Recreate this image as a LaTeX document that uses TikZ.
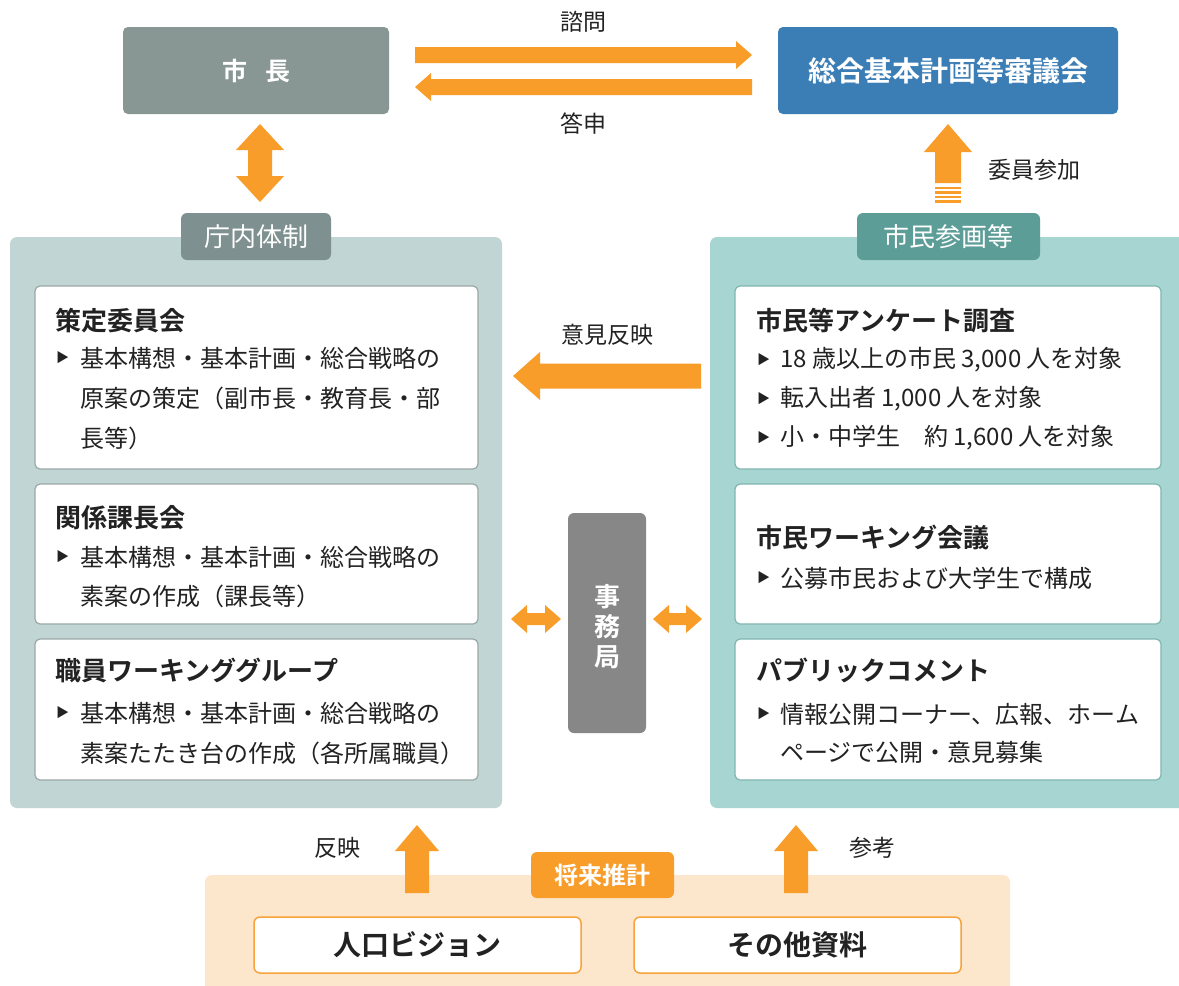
\documentclass[tikz,border=0pt]{standalone}
\usepackage{fontspec}
\setmainfont{Noto Sans CJK JP}[BoldFont={Noto Sans CJK JP Bold}]
\definecolor{arrowc}{HTML}{F89C2A}
\definecolor{mayorc}{HTML}{899794}
\definecolor{bluec}{HTML}{3B7EB6}
\definecolor{leftpanel}{HTML}{C0D5D4}
\definecolor{lefttab}{HTML}{7E908F}
\definecolor{rightpanel}{HTML}{A7D6D2}
\definecolor{righttab}{HTML}{5C9D97}
\definecolor{jimuc}{HTML}{878787}
\definecolor{peach}{HTML}{FDE7CC}
\definecolor{boxline}{HTML}{9AA8A7}
\definecolor{rboxline}{HTML}{7FB5B0}
\definecolor{obox}{HTML}{F7A23A}
\definecolor{txt}{HTML}{222222}
\newcommand{\fsz}[1]{\fontsize{#1}{#1}\selectfont}
% horizontal block arrow: start x, tip x, y, shaft hw, head hw, head len (signed)
\newcommand{\blockH}[6]{\fill[arrowc] ({#1},{#3-(#4)}) -- ({#2-(#6)},{#3-(#4)}) -- ({#2-(#6)},{#3-(#5)}) -- ({#2},{#3}) -- ({#2-(#6)},{#3+(#5)}) -- ({#2-(#6)},{#3+(#4)}) -- ({#1},{#3+(#4)}) -- cycle;}
% vertical block arrow: x, start y, tip y, shaft hw, head hw, head len (signed)
\newcommand{\blockV}[6]{\fill[arrowc] ({#1-(#4)},{#2}) -- ({#1-(#4)},{#3-(#6)}) -- ({#1-(#5)},{#3-(#6)}) -- ({#1},{#3}) -- ({#1+(#5)},{#3-(#6)}) -- ({#1+(#4)},{#3-(#6)}) -- ({#1+(#4)},{#2}) -- cycle;}
% horizontal double arrow: x1, x2, y, shaft hw, head hw, head len
\newcommand{\dblH}[6]{\fill[arrowc] ({#1},{#3}) -- ({#1+(#6)},{#3-(#5)}) -- ({#1+(#6)},{#3-(#4)}) -- ({#2-(#6)},{#3-(#4)}) -- ({#2-(#6)},{#3-(#5)}) -- ({#2},{#3}) -- ({#2-(#6)},{#3+(#5)}) -- ({#2-(#6)},{#3+(#4)}) -- ({#1+(#6)},{#3+(#4)}) -- ({#1+(#6)},{#3+(#5)}) -- cycle;}
% vertical double arrow: x, y1, y2, shaft hw, head hw, head len
\newcommand{\dblV}[6]{\fill[arrowc] ({#1},{#2}) -- ({#1+(#5)},{#2+(#6)}) -- ({#1+(#4)},{#2+(#6)}) -- ({#1+(#4)},{#3-(#6)}) -- ({#1+(#5)},{#3-(#6)}) -- ({#1},{#3}) -- ({#1-(#5)},{#3-(#6)}) -- ({#1-(#4)},{#3-(#6)}) -- ({#1-(#4)},{#2+(#6)}) -- ({#1-(#5)},{#2+(#6)}) -- cycle;}
\tikzset{
  topbox/.style={inner sep=0pt, text=white, font=\bfseries\fsz{28}},
  panel/.style={rounded corners=7pt},
  tabbox/.style={inner sep=0pt, text=white, font=\fsz{26}},
  wbox/.style={fill=white, draw=boxline, line width=1.2pt, rounded corners=5pt},
  rwbox/.style={fill=white, draw=rboxline, line width=1.2pt, rounded corners=5pt},
  head/.style={anchor=west, inner sep=0pt, text=txt, font=\bfseries\fsz{26}},
  body/.style={anchor=west, inner sep=0pt, text=txt, font=\fsz{24}},
  bul/.style={anchor=west, inner sep=0pt, text=txt, font=\fsz{13}},
  lbl/.style={inner sep=0pt, text=txt, font=\fsz{23}},
  obx/.style={fill=white, draw=obox, line width=1.5pt, rounded corners=6pt},
}
\begin{document}
\begin{tikzpicture}[x=1pt, y=-1pt]
\useasboundingbox[fill=white] (0,0) rectangle (1179,986);
% top boxes
\fill[mayorc, rounded corners=5pt] (123,27) rectangle (389,114);
\node[topbox, font=\bfseries\fsz{25}] (mayor) at (256,71) {市\hspace{18pt}長};
\fill[bluec, rounded corners=5pt] (778,27) rectangle (1118,114);
\node[topbox] (council) at (948,71) {総合基本計画等審議会};
% top arrows
\blockH{415}{752}{55}{8}{14}{16}
\blockH{752}{415}{87}{8}{14}{-16}
\node[lbl] (shimon) at (583,22) {諮問};
\node[lbl] (toshin) at (583,124) {答申};
% mayor <-> internal
\dblV{260}{124}{202}{12}{24}{26}
% left panel
\fill[leftpanel, panel] (10,237) rectangle (502,808);
\fill[lefttab, rounded corners=6pt] (181,213) rectangle (331,260);
\node[tabbox] (tab1) at (256,237) {庁内体制};
% right panel
\fill[rightpanel, panel] (710,237) rectangle (1200,808);
\fill[righttab, rounded corners=6pt] (857,213) rectangle (1040,260);
\node[tabbox] (tab2) at (948,237) {市民参画等};
% committee arrow with stripes
\blockV{948}{183}{124}{13}{24}{-28}
\foreach \yy in {188,192.5,197,201.5} {\fill[arrowc] (935,\yy-1.3) rectangle (961,\yy+1.3);}
\node[lbl, anchor=west] (iin) at (988,170) {委員参加};
% left inner boxes
\draw[wbox] (35,286) rectangle (478,469);
\draw[wbox] (35,484) rectangle (478,624);
\draw[wbox] (35,639) rectangle (478,780);
\node[head] (h1) at (55,321) {策定委員会};
\node[bul] (b1) at (56,358) {▶};
\node[body] (l1a) at (80,358) {基本構想・基本計画・総合戦略の};
\node[body] (l1b) at (80,398) {原案の策定（副市長・教育長・部};
\node[body] (l1c) at (80,438) {長等）};
\node[head] (h2) at (55,518) {関係課長会};
\node[bul] (b2) at (56,557) {▶};
\node[body] (l2a) at (80,557) {基本構想・基本計画・総合戦略の};
\node[body] (l2b) at (80,596) {素案の作成（課長等）};
\node[head] (h3) at (55,670) {職員ワーキンググループ};
\node[bul] (b3) at (56,713) {▶};
\node[body] (l3a) at (80,713) {基本構想・基本計画・総合戦略の};
\node[body] (l3b) at (80,753) {素案たたき台の作成（各所属職員）};
% right inner boxes
\draw[rwbox] (735,286) rectangle (1161,469);
\draw[rwbox] (735,484) rectangle (1161,624);
\draw[rwbox] (735,639) rectangle (1161,780);
\node[head] (h4) at (756,321) {市民等アンケート調査};
\node[bul] (b4a) at (757,360) {▶};
\node[body] (l4a) at (780,360) {18 歳以上の市民 3,000 人を対象};
\node[bul] (b4b) at (757,399) {▶};
\node[body] (l4b) at (780,399) {転入出者 1,000 人を対象};
\node[bul] (b4c) at (757,438) {▶};
\node[body] (l4c) at (780,438) {小・中学生　約 1,600 人を対象};
\node[head] (h5) at (756,537) {市民ワーキング会議};
\node[bul] (b5) at (757,578) {▶};
\node[body] (l5) at (780,578) {公募市民および大学生で構成};
\node[head] (h6) at (756,670) {パブリックコメント};
\node[bul] (b6) at (757,714) {▶};
\node[body] (l6a) at (780,714) {情報公開コーナー、広報、ホーム};
\node[body] (l6b) at (780,752) {ページで公開・意見募集};
% opinion arrow
\blockH{701}{513}{376}{12.5}{24}{-27}
\node[lbl] (iken) at (607,335) {意見反映};
% secretariat
\fill[jimuc, rounded corners=6pt] (568,513) rectangle (646,733);
\node[inner sep=0pt, text=white, font=\bfseries\fontsize{26}{30}\selectfont, align=center] (jimu) at (607,627) {事\\務\\局};
\dblH{511}{561}{619}{6}{14}{16}
\dblH{653}{702}{619}{6}{14}{16}
% bottom panel
\fill[peach, rounded corners=7pt] (205,875) rectangle (1010,1000);
\fill[arrowc, rounded corners=6pt] (531,852) rectangle (674,898);
\node[inner sep=0pt, text=white, font=\bfseries\fsz{24}] (suikei) at (602,875) {将来推計};
\draw[obx] (254,917) rectangle (581,973);
\node[inner sep=0pt, text=txt, font=\bfseries\fsz{28}] (vision) at (417,945) {人口ビジョン};
\draw[obx] (634,917) rectangle (961,973);
\node[inner sep=0pt, text=txt, font=\bfseries\fsz{28}] (other) at (797,945) {その他資料};
\blockV{417}{893}{825}{12}{22}{-26}
\blockV{796}{893}{825}{12}{22}{-26}
\node[lbl] (hanei) at (337,848) {反映};
\node[lbl] (sanko) at (872,848) {参考};
\end{tikzpicture}
\end{document}
